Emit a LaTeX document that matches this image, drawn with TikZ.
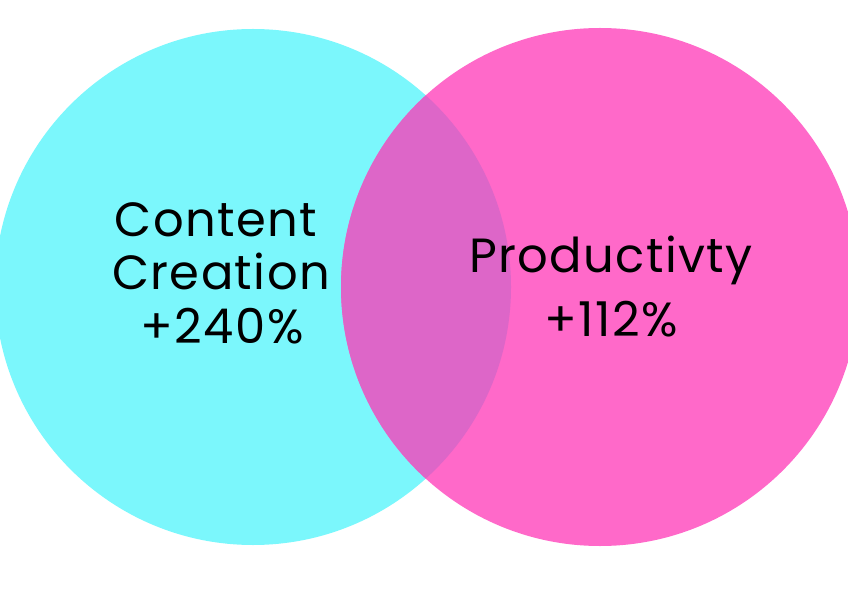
\documentclass[tikz,border=0pt]{standalone}
\usepackage{fontspec}
\setmainfont{Poppins}[LetterSpace=3]
\definecolor{vcyan}{HTML}{7BF7FC}
\definecolor{vpink}{HTML}{FF69C9}
\definecolor{vmix}{HTML}{DD66C8}
\begin{document}
\begin{tikzpicture}[x=1pt,y=-1pt,
  lbl/.style={anchor=base,inner sep=0pt,font=\fontsize{48}{53}\selectfont,text=black}]
\useasboundingbox (0,0) rectangle (848,609);
\begin{scope}
\clip (0,0) rectangle (848,609);
\fill[vcyan] (253,287) circle[radius=258];
\fill[vpink] (600,287) circle[radius=259];
\begin{scope}
\clip (253,287) circle[radius=258];
\fill[vmix] (600,287) circle[radius=259];
\end{scope}
\end{scope}
\node[lbl] (cc1) at (216,237) {Content};
\node[lbl] (cc2) at (221,290) {Creation};
\node[lbl] (cc3) at (222,343) {+240\%};
\node[lbl] (p1) at (611,273) {Productivty};
\node[lbl] (p2) at (611,337) {+112\%};
\end{tikzpicture}
\end{document}
